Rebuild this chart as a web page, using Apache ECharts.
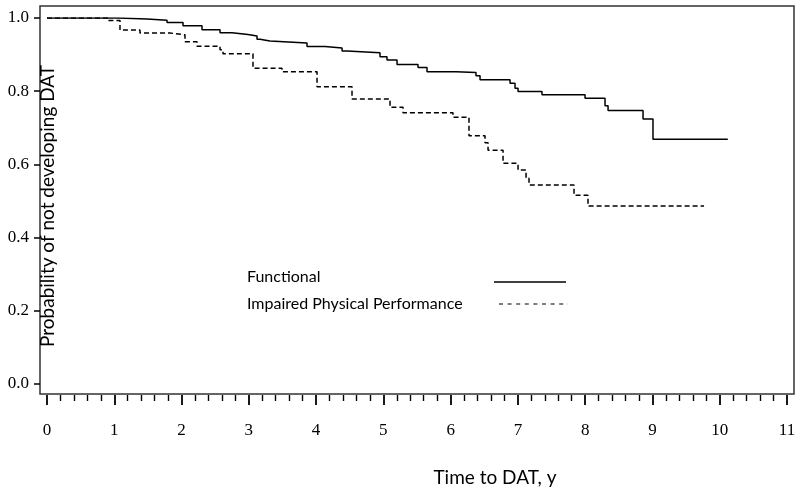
<!DOCTYPE html>
<html>
<head>
<meta charset="utf-8">
<script src="https://cdn.jsdelivr.net/npm/echarts@6/dist/echarts.min.js"></script>
<style>html,body{margin:0;padding:0;background:#fff}#c{width:800px;height:494px}</style>
</head>
<body>
<div id="c"></div>
<script>
const funcTimes = [0, 1.055, 1.487, 1.784, 2.022, 2.304, 2.572, 2.750, 2.988, 3.122, 3.166, 3.315, 3.865, 4.133, 4.386, 4.460, 4.950, 5.054, 5.203, 5.515, 5.649, 6.080, 6.377, 6.437, 6.883, 6.957, 7.002, 7.358, 7.998, 8.295, 8.340, 8.860, 9.008, 10.12];
const funcSurv  = [1.0, 0.997, 0.994, 0.988, 0.979, 0.968, 0.960, 0.955, 0.951, 0.942, 0.937, 0.932, 0.922, 0.918, 0.910, 0.905, 0.894, 0.885, 0.873, 0.865, 0.853, 0.851, 0.842, 0.831, 0.822, 0.808, 0.799, 0.790, 0.781, 0.760, 0.747, 0.724, 0.669, 0.669];
const impTimes = [0, 0.911, 1.085, 1.382, 1.828, 2.051, 2.230, 2.572, 2.616, 3.062, 3.493, 4.014, 4.534, 5.099, 5.292, 6.035, 6.273, 6.511, 6.556, 6.779, 7.002, 7.121, 7.165, 7.834, 8.042, 9.767];
const impSurv  = [1.0, 0.993, 0.967, 0.959, 0.954, 0.935, 0.923, 0.913, 0.902, 0.863, 0.853, 0.812, 0.779, 0.756, 0.741, 0.729, 0.678, 0.659, 0.639, 0.603, 0.585, 0.562, 0.544, 0.516, 0.486, 0.486];
const seriesNames = ["Functional", "Impaired Physical Performance"];
const xTitle = "Time to DAT, y";
const yTitle = "Probability of not developing DAT";

const funcData = funcTimes.map((t, i) => [t, funcSurv[i]]);
const impData = impTimes.map((t, i) => [t, impSurv[i]]);

const serif = '"Liberation Serif", "DejaVu Serif", serif';
const sans = 'Lato, "Open Sans", sans-serif';

const chart = echarts.init(document.getElementById('c'));
chart.setOption({
  animation: false,
  backgroundColor: '#fff',
  grid: [
    {left: 40, top: 6, width: 754, height: 388, show: true, borderColor: '#333', borderWidth: 1.5, backgroundColor: 'transparent'},
    {left: 47, top: 18, width: 740, height: 366}
  ],
  xAxis: [
    {gridIndex: 0, type: 'value', show: false, min: 0, max: 1},
    {gridIndex: 1, type: 'value', min: 0, max: 11, interval: 1, offset: 11, position: 'bottom',
     axisLine: {show: false, onZero: false},
     axisTick: {show: true, length: 10, lineStyle: {color: '#000', width: 1.8}},
     minorTick: {show: true, splitNumber: 5, length: 6, lineStyle: {color: '#000', width: 1.4}},
     splitLine: {show: false},
     axisLabel: {margin: 27, color: '#000', fontFamily: serif, fontSize: 17}}
  ],
  yAxis: [
    {gridIndex: 0, type: 'value', show: false, min: 0, max: 1},
    {gridIndex: 1, type: 'value', min: 0, max: 1, interval: 0.2, offset: 7, position: 'left',
     axisLine: {show: false, onZero: false},
     axisTick: {show: true, length: 6, lineStyle: {color: '#000', width: 1.5}},
     splitLine: {show: false},
     axisLabel: {margin: 11, color: '#000', fontFamily: serif, fontSize: 17,
       formatter: v => v.toFixed(1)}}
  ],
  series: [
    {name: seriesNames[0], type: 'line', xAxisIndex: 1, yAxisIndex: 1, step: 'end', symbol: 'none',
     data: funcData, lineStyle: {color: '#000', width: 1.5, type: 'solid'}},
    {name: seriesNames[1], type: 'line', xAxisIndex: 1, yAxisIndex: 1, step: 'end', symbol: 'none',
     data: impData, lineStyle: {color: '#000', width: 1.5, type: [5, 3]}}
  ],
  graphic: [
    {type: 'text', x: 48, y: 206, rotation: Math.PI / 2,
     style: {text: yTitle, font: '19px ' + sans, fill: '#000', textAlign: 'center', textVerticalAlign: 'middle'}},
    {type: 'text', x: 495, y: 478,
     style: {text: xTitle, font: '19px ' + sans, fill: '#000', textAlign: 'center', textVerticalAlign: 'middle'}},
    {type: 'text', x: 247, y: 277,
     style: {text: seriesNames[0], font: '16px ' + sans, fill: '#000', textAlign: 'left', textVerticalAlign: 'middle'}},
    {type: 'text', x: 247, y: 304,
     style: {text: seriesNames[1], font: '16px ' + sans, fill: '#000', textAlign: 'left', textVerticalAlign: 'middle'}},
    {type: 'line', shape: {x1: 494, y1: 282, x2: 566, y2: 282}, style: {stroke: '#000', lineWidth: 1.5}},
    {type: 'line', shape: {x1: 499, y1: 304, x2: 568, y2: 304}, style: {stroke: '#000', lineWidth: 1.2, lineDash: [4, 4.6]}}
  ]
});
</script>
</body>
</html>
